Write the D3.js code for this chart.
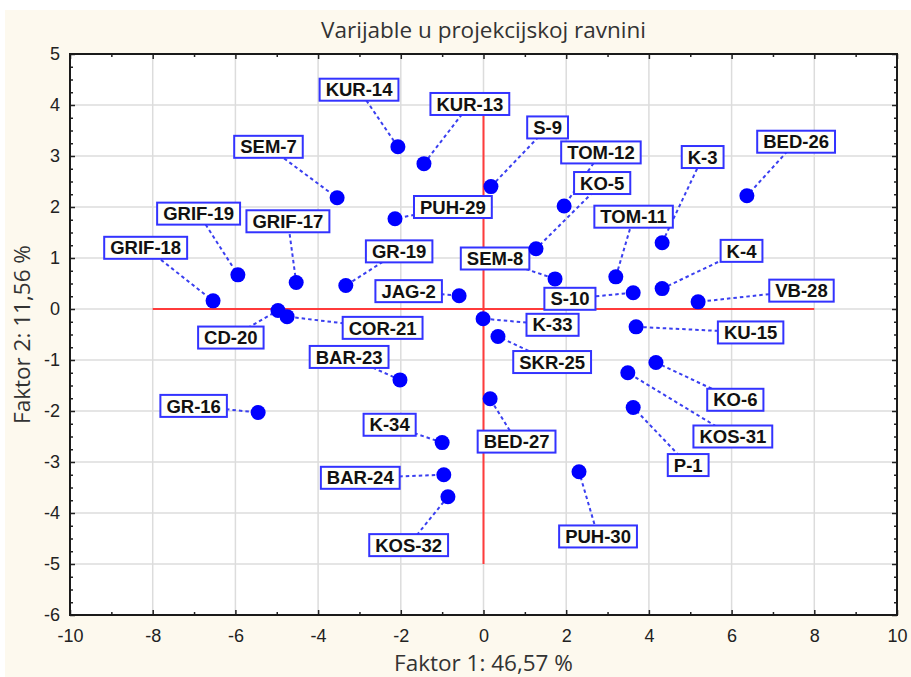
<!DOCTYPE html>
<html><head><meta charset="utf-8">
<script src="https://cdn.jsdelivr.net/npm/d3@7"></script>
<style>
html,body{margin:0;padding:0;background:#fff;}
svg{display:block;}
</style></head>
<body>
<script>
// ---- data ----
const names = ["KUR-14","KUR-13","S-9","TOM-12","KO-5","SEM-8","S-10","K-3","TOM-11","BED-26","K-4","VB-28","KU-15","KO-6","KOS-31","P-1","PUH-30","BED-27","SKR-25","K-33","KOS-32","BAR-24","K-34","BAR-23","COR-21","CD-20","GR-16","GRIF-18","GRIF-19","GRIF-17","SEM-7","GR-19","PUH-29","JAG-2"];
const factor1 = [-2.07,-1.44,0.18,1.95,1.27,1.73,3.62,4.32,3.20,6.37,4.32,5.19,3.69,4.17,3.49,3.62,2.31,0.16,0.35,-0.01,-0.86,-0.96,-1.00,-2.02,-4.75,-4.97,-5.45,-6.54,-5.94,-4.53,-3.54,-3.33,-2.14,-0.59];
const factor2 = [3.18,2.85,2.40,2.02,1.18,0.59,0.32,1.30,0.63,2.22,0.40,0.14,-0.35,-1.05,-1.25,-1.93,-3.19,-1.76,-0.54,-0.19,-3.68,-3.25,-2.62,-1.39,-0.15,-0.03,-2.03,0.16,0.67,0.52,2.18,0.46,1.77,0.26];
// label anchor (centre) in data units
const labelF1 = [-3.01,-0.33,1.55,2.84,2.87,0.28,2.09,5.30,3.63,7.56,6.24,7.69,6.46,6.09,6.03,4.95,2.77,0.80,1.66,1.67,-1.81,-2.98,-2.27,-3.25,-2.44,-6.11,-7.01,-8.17,-6.89,-4.73,-5.20,-2.04,-0.74,-1.81];
const labelF2 = [4.30,4.02,3.56,3.07,2.47,0.99,0.20,2.98,1.81,3.28,1.14,0.36,-0.46,-1.78,-2.50,-3.06,-4.46,-2.60,-1.04,-0.31,-4.63,-3.31,-2.27,-0.94,-0.37,-0.56,-1.90,1.20,1.87,1.72,3.18,1.13,2.00,0.35];
const xTickValues = [-10,-8,-6,-4,-2,0,2,4,6,8,10];
const yTickValues = [-6,-5,-4,-3,-2,-1,0,1,2,3,4,5];
const xMinorValues = [-9,-7,-5,-3,-1,1,3,5,7,9];
const yMinorValues = d3.range(-6, 5.001, 0.25).filter(v => Math.abs(v - Math.round(v)) > 1e-6);
const refH = [-8, 8];   // horizontal reference line extent on factor 1
const refV = [-5, 4];   // vertical reference line extent on factor 2
const title = "Varijable u projekcijskoj ravnini";
const xTitle = "Faktor 1: 46,57 %";
const yTitle = "Faktor 2: 11,56 %";

// ---- drawing ----
const W = 911, H = 677;
const svg = d3.select("body").append("svg").attr("width", W).attr("height", H);
svg.append("rect").attr("x",5).attr("y",10).attr("width",W-5).attr("height",H-10).attr("fill","#fdf9ee");

const x = d3.scaleLinear().domain([-10,10]).range([70,897]);
const y = d3.scaleLinear().domain([-6,5]).range([615,54]);
const L = x.range()[0], R = x.range()[1], T = y.range()[1], B = y.range()[0];

svg.append("rect").attr("x",L).attr("y",T).attr("width",R-L).attr("height",B-T).attr("fill","#fff");

// grid
const grid = svg.append("g");
grid.selectAll("line.gx").data(xTickValues.slice(1,-1)).join("line")
  .attr("x1",d=>x(d)).attr("x2",d=>x(d)).attr("y1",T).attr("y2",B)
  .attr("stroke","#dcdcdc").attr("stroke-width",1.5);
grid.selectAll("line.gy").data(yTickValues.slice(1,-1)).join("line")
  .attr("y1",d=>y(d)).attr("y2",d=>y(d)).attr("x1",L).attr("x2",R)
  .attr("stroke","#dcdcdc").attr("stroke-width",1.5);

// reference lines
svg.append("line").attr("x1",x(refH[0])).attr("x2",x(refH[1])).attr("y1",y(0)).attr("y2",y(0))
  .attr("stroke","#ff3b3b").attr("stroke-width",2);
svg.append("line").attr("x1",x(0)).attr("x2",x(0)).attr("y1",y(refV[0])).attr("y2",y(refV[1]))
  .attr("stroke","#ff3b3b").attr("stroke-width",2);

// axes
const tickFont = "'Liberation Sans',Arial,sans-serif";
const fmt = d => String(d);
function styleAxis(g){ g.select(".domain").remove(); g.selectAll("line").attr("stroke","#222").attr("stroke-width",1.5); }
const axB = svg.append("g").attr("transform",`translate(0,${B})`)
  .call(d3.axisBottom(x).tickValues(xTickValues).tickSizeInner(-5).tickSizeOuter(0).tickPadding(14).tickFormat(fmt));
styleAxis(axB);
axB.selectAll("text").attr("font-family",tickFont).attr("font-size",18).attr("fill","#222");
const axBm = svg.append("g").attr("transform",`translate(0,${B})`)
  .call(d3.axisBottom(x).tickValues(xMinorValues).tickSizeInner(-3).tickSizeOuter(0).tickFormat(""));
styleAxis(axBm);
const axT = svg.append("g").attr("transform",`translate(0,${T})`)
  .call(d3.axisTop(x).tickValues(xTickValues).tickSizeInner(-5).tickSizeOuter(0).tickFormat(""));
styleAxis(axT);
const axTm = svg.append("g").attr("transform",`translate(0,${T})`)
  .call(d3.axisTop(x).tickValues(xMinorValues).tickSizeInner(-3).tickSizeOuter(0).tickFormat(""));
styleAxis(axTm);
const axL = svg.append("g").attr("transform",`translate(${L},0)`)
  .call(d3.axisLeft(y).tickValues(yTickValues).tickSizeInner(-5).tickSizeOuter(0).tickPadding(10).tickFormat(fmt));
styleAxis(axL);
axL.selectAll("text").attr("font-family",tickFont).attr("font-size",18).attr("fill","#222");
const axLm = svg.append("g").attr("transform",`translate(${L},0)`)
  .call(d3.axisLeft(y).tickValues(yMinorValues).tickSizeInner(-3).tickSizeOuter(0).tickFormat(""));
styleAxis(axLm);
const axR = svg.append("g").attr("transform",`translate(${R},0)`)
  .call(d3.axisRight(y).tickValues(yTickValues).tickSizeInner(-5).tickSizeOuter(0).tickFormat(""));
styleAxis(axR);
const axRm = svg.append("g").attr("transform",`translate(${R},0)`)
  .call(d3.axisRight(y).tickValues(yMinorValues).tickSizeInner(-3).tickSizeOuter(0).tickFormat(""));
styleAxis(axRm);

// frame
svg.append("rect").attr("x",L).attr("y",T).attr("width",R-L).attr("height",B-T)
  .attr("fill","none").attr("stroke","#1a1a1a").attr("stroke-width",2);

// data table
const pts = names.map((n,i)=>({name:n, f1:factor1[i], f2:factor2[i], lx:labelF1[i], ly:labelF2[i]}));

// leader lines
svg.append("g").selectAll("line").data(pts).join("line")
  .attr("x1",d=>x(d.lx)).attr("y1",d=>y(d.ly)).attr("x2",d=>x(d.f1)).attr("y2",d=>y(d.f2))
  .attr("stroke","#3a3ff0").attr("stroke-width",2).attr("stroke-dasharray","3.5,3");

// label boxes
const lab = svg.append("g").selectAll("g").data(pts).join("g")
  .attr("transform",d=>`translate(${x(d.lx)},${y(d.ly)})`);
const rects = lab.append("rect");
const texts = lab.append("text").text(d=>d.name)
  .attr("text-anchor","middle").attr("dy","0.36em")
  .attr("font-family","'Liberation Sans',Arial,sans-serif").attr("font-weight","bold")
  .attr("font-size",18.5).attr("fill","#111");
texts.each(function(d){ d.tw = this.getComputedTextLength(); });
rects.attr("x",d=>-d.tw/2-6).attr("y",-11).attr("width",d=>d.tw+12).attr("height",22)
  .attr("fill","#fffffa").attr("stroke","#3333ff").attr("stroke-width",2);

// points
svg.append("g").selectAll("circle").data(pts).join("circle")
  .attr("cx",d=>x(d.f1)).attr("cy",d=>y(d.f2)).attr("r",7.5).attr("fill","#0000ff");

// titles
const titleFont = "'Open Sans','Noto Sans',sans-serif";
svg.append("text").attr("x",x(0)).attr("y",38).attr("text-anchor","middle")
  .attr("font-family",titleFont).attr("font-size",22.5).attr("fill","#333").text(title);
svg.append("text").attr("x",x(0)).attr("y",671).attr("text-anchor","middle")
  .attr("font-family",titleFont).attr("font-size",22.5).attr("fill","#333").text(xTitle);
svg.append("text").attr("transform",`translate(30,${(T+B)/2}) rotate(-90)`).attr("text-anchor","middle")
  .attr("font-family",titleFont).attr("font-size",22.5).attr("fill","#333").text(yTitle);
</script>
</body></html>
